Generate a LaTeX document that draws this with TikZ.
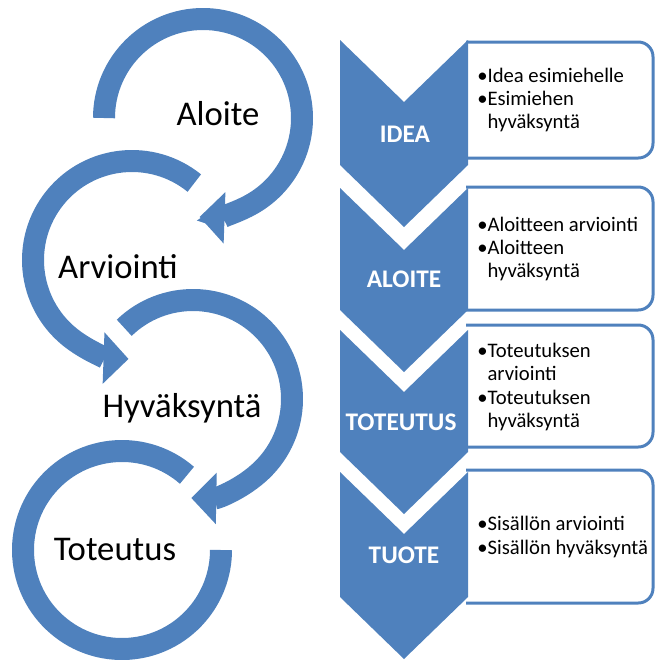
\documentclass[tikz,border=0pt]{standalone}
\usepackage{fontspec}
\setmainfont{Carlito}
\usetikzlibrary{arrows.meta}
\definecolor{phaseblue}{RGB}{79,129,189}

\begin{document}
\begin{tikzpicture}[x=0.75pt,y=-0.75pt,
  ring/.style={draw=phaseblue, line width=16.5pt},
  ringarrow/.style={ring, -{Triangle[length=18.75pt,width=37.5pt]}},
  chevron/.style={fill=phaseblue},
  listbox/.style={draw=phaseblue, line width=2.25pt, fill=white, rounded corners=11pt},
  cyclelabel/.style={anchor=base, font=\fontsize{26}{30}\selectfont},
  phaselabel/.style={anchor=base, text=white, font=\bfseries\fontsize{19}{22}\selectfont},
  itemlist/.style={anchor=west, align=left, inner sep=0pt, font=\fontsize{15.5}{17.5}\selectfont}]
  \useasboundingbox (0,0) rectangle (655,662);

  % Cycle on the left
  \draw[ringarrow] ([shift={(203,118)}]-180:99) arc[start angle=-180, end angle=92, radius=99];
  \draw[ringarrow] ([shift={(132,260)}]-51:99) arc[start angle=-51, end angle=-268, radius=99];
  \draw[ringarrow] ([shift={(193,399)}]-134:99) arc[start angle=-134, end angle=91, radius=99];
  \draw[ring] ([shift={(122,550)}]-49:99) arc[start angle=-49, end angle=-360, radius=99];

  \node[cyclelabel] (aloite)     at (218,125) {Aloite};
  \node[cyclelabel] (arviointi)  at (118,278) {Arviointi};
  \node[cyclelabel] (hyvaksynta) at (182,417) {Hyväksyntä};
  \node[cyclelabel] (toteutus)   at (115,560) {Toteutus};

  % Chevrons with their boxes
  \foreach \ya/\yb/\bt/\bb in {40/165/42/158, 188/310/187/310, 330/452/325/447, 472/597/470/603} {
    \draw[listbox] (466,\bt) -- (653,\bt) -- (653,\bb) -- (466,\bb);
    \fill[chevron] (340,\ya) -- (404,\ya+62) -- (468,\ya) -- (468,\yb) -- (404,\yb+62) -- (340,\yb) -- cycle;
  }

  \node[phaselabel] (idea)      at (405,142) {IDEA};
  \node[phaselabel] (aloitep)   at (404,287) {ALOITE};
  \node[phaselabel] (toteutusp) at (401,430) {TOTEUTUS};
  \node[phaselabel] (tuote)     at (404,563) {TUOTE};

  \node[itemlist] (ideaitems) at (477,100)
    {\textbullet Idea esimiehelle\\\textbullet Esimiehen\\\phantom{\textbullet}hyväksyntä};
  \node[itemlist] (aloiteitems) at (477,249)
    {\textbullet Aloitteen arviointi\\\textbullet Aloitteen\\\phantom{\textbullet}hyväksyntä};
  \node[itemlist] (toteutusitems) at (477,387)
    {\textbullet Toteutuksen\\\phantom{\textbullet}arviointi\\\textbullet Toteutuksen\\\phantom{\textbullet}hyväksyntä};
  \node[itemlist] (tuoteitems) at (477,537)
    {\textbullet Sisällön arviointi\\\textbullet Sisällön hyväksyntä};
\end{tikzpicture}
\end{document}
